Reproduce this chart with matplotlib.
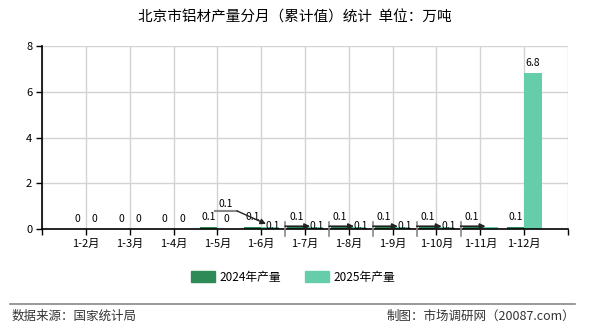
import matplotlib
matplotlib.use("Agg")
import matplotlib.pyplot as plt
from matplotlib.patches import Patch
from matplotlib.lines import Line2D

plt.rcParams['font.family'] = ['Noto Sans CJK SC', 'DejaVu Sans']

categories = ["1-2月", "1-3月", "1-4月", "1-5月", "1-6月", "1-7月",
              "1-8月", "1-9月", "1-10月", "1-11月", "1-12月"]
v2024 = [0, 0, 0, 0.1, 0.1, 0.1, 0.1, 0.1, 0.1, 0.1, 0.1]
v2025 = [0, 0, 0, 0, 0.1, 0.1, 0.1, 0.1, 0.1, 0.1, 6.8]
yticks = [0, 2, 4, 6, 8]

c2024 = "#2e8b57"
c2025 = "#66cdaa"

fig = plt.figure(figsize=(5.9, 3.3), dpi=100)
ax = fig.add_axes([42/590, 101/330, 526/590, 183/330])

n = len(categories)
xs = list(range(n))
bw = 0.4
ax.bar([x - bw/2 for x in xs], v2024, width=bw, color=c2024, zorder=2)
ax.bar([x + bw/2 for x in xs], v2025, width=bw, color=c2025, zorder=2)

ax.set_xlim(-1, n)
ax.set_ylim(0, 8)
ax.set_yticks(yticks)
ax.set_yticklabels([str(t) for t in yticks], fontsize=8)
ax.set_xticks(list(range(-1, n + 1)))
ax.set_xticklabels([""] + categories + [""], fontsize=8)
ax.tick_params(axis='both', length=4, width=1, color='black', pad=3)
ax.grid(True, color='#d3d3d3', linewidth=1, zorder=0)
for s in ['top', 'right']:
    ax.spines[s].set_visible(False)
for s in ['left', 'bottom']:
    ax.spines[s].set_color('black')
    ax.spines[s].set_linewidth(1.2)
ax.spines['bottom'].set_zorder(5)

def fmt(v):
    return "0" if v == 0 else ("%g" % v)

# labels for 2024 series
for i, v in enumerate(v2024):
    ax.annotate(fmt(v), xy=(i - bw/2, v), xytext=(0, 5), textcoords='offset pixels',
                ha='center', va='bottom', fontsize=7.5, zorder=6)

# labels for 2025 series
for i, v in enumerate(v2025):
    if v == 0 or v > 1:
        ax.annotate(fmt(v), xy=(i + bw/2, v), xytext=(0, 5), textcoords='offset pixels',
                    ha='center', va='bottom', fontsize=7.5, zorder=6)
    else:
        # displaced labels with leader arrows
        if i != 9:
            ax.text(i + 0.27, 0.14, fmt(v), ha='center', va='center', fontsize=7.5, zorder=5)
        if i == 4:
            ax.plot([2.95, 3.45], [0.79, 0.79], color='#888888', lw=1.5, zorder=6)
            ax.annotate("", xy=(i + 0.11, 0.22), xytext=(3.45, 0.79),
                        arrowprops=dict(arrowstyle='-|>', color='#222222', lw=1,
                                        mutation_scale=8, shrinkA=0, shrinkB=0), zorder=7)
            ax.text(3.18, 1.09, fmt(v), ha='center', va='center', fontsize=7.5, zorder=6)
        else:
            ax.plot([i - 0.45, i - 0.45], [-0.3, 0.3], color='#888888', lw=1.2,
                    zorder=6, clip_on=False)
            ax.annotate("", xy=(i + 0.12, 0.12), xytext=(i - 0.45, 0.12),
                        arrowprops=dict(arrowstyle='-|>', color='#222222', lw=1.2,
                                        mutation_scale=8, shrinkA=0, shrinkB=0), zorder=7)

fig.text(0.5, 1 - 18/330, "北京市铝材产量分月（累计值）统计  单位：万吨",
         ha='center', va='center', fontsize=10.5)

handles = [Patch(color=c2024), Patch(color=c2025)]
fig.legend(handles, ["2024年产量", "2025年产量"], loc='center',
           bbox_to_anchor=(0.497, 1 - 277/330), ncol=2, frameon=False, fontsize=8.5,
           handlelength=2.0, handleheight=1.0, handletextpad=0.4, columnspacing=2.0)

fig.add_artist(Line2D([10/590, 575/590], [1 - 304/330, 1 - 304/330],
                      color='#888888', lw=1.2))
fig.text(12/590, 1 - 316/330, "数据来源：国家统计局", ha='left', va='center', fontsize=9,
         color='#333333')
fig.text(575/590, 1 - 316/330, "制图：市场调研网（20087.com）", ha='right', va='center',
         fontsize=9, color='#333333')

fig.savefig("out.png", dpi=100)
